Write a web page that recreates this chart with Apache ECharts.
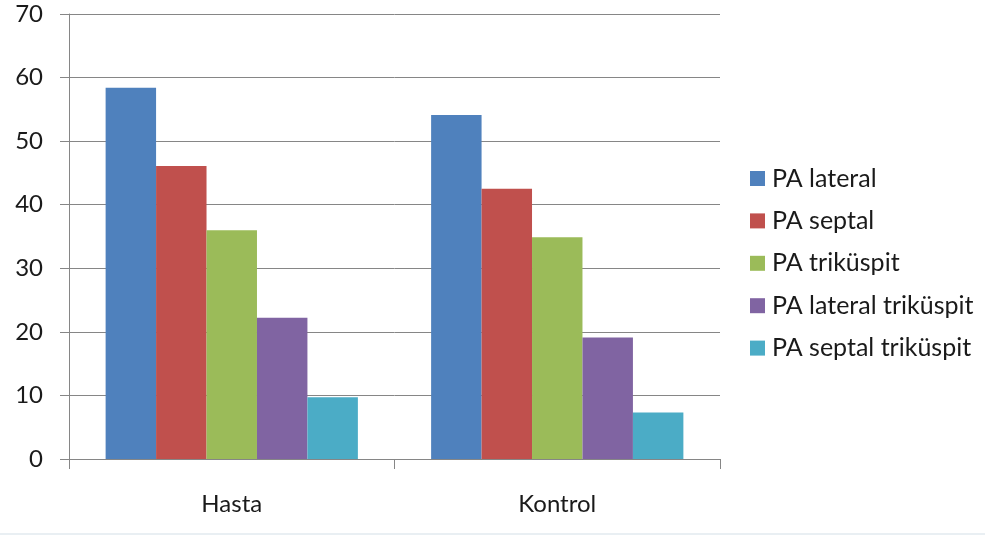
<!DOCTYPE html>
<html>
<head>
<meta charset="utf-8">
<script src="https://cdn.jsdelivr.net/npm/echarts@6/dist/echarts.min.js"></script>
<style>
  html, body { margin: 0; padding: 0; background: #fff; }
  #chart { width: 985px; height: 535px; }
</style>
</head>
<body>
<div id="chart"></div>
<script>
// Groups on the category axis
const categories = ['Hasta', 'Kontrol'];

// One value per group for each measurement
const paLateral = [58.4, 54.1];
const paSeptal = [46.1, 42.5];
const paTrikuspit = [36.0, 34.9];
const paLateralTrikuspit = [22.2, 19.1];
const paSeptalTrikuspit = [9.7, 7.3];

const seriesNames = ['PA lateral', 'PA septal', 'PA triküspit', 'PA lateral triküspit', 'PA septal triküspit'];
const seriesValues = [paLateral, paSeptal, paTrikuspit, paLateralTrikuspit, paSeptalTrikuspit];
const palette = ['#4F81BD', '#C0504D', '#9BBB59', '#8064A2', '#4BACC6'];

const yTicks = { min: 0, max: 70, interval: 10 };

const font = 'Lato, "Open Sans", sans-serif';
const chart = echarts.init(document.getElementById('chart'), null, { renderer: 'canvas' });

chart.setOption({
  animation: false,
  backgroundColor: '#ffffff',
  color: palette,
  grid: { left: 69, right: 265, top: 14, bottom: 76, containLabel: false },
  // faint frame edge along the bottom of the chart area
  graphic: [{
    type: 'rect',
    left: 0,
    bottom: 0,
    shape: { width: 985, height: 2 },
    style: { fill: '#e9eff3' },
    silent: true
  }],
  legend: {
    orient: 'vertical',
    left: 745,
    top: 161,
    itemWidth: 15,
    itemHeight: 15,
    itemGap: 17.4,
    icon: 'rect',
    textStyle: { fontFamily: font, fontSize: 25, color: '#1a1a1a', lineHeight: 25, padding: [0, 0, 0, 2] },
    data: seriesNames
  },
  xAxis: {
    type: 'category',
    data: categories,
    axisLine: { lineStyle: { color: '#868686', width: 1 } },
    axisTick: { show: true, length: 10, lineStyle: { color: '#868686' } },
    axisLabel: { fontFamily: font, fontSize: 24, color: '#1a1a1a', margin: 33 }
  },
  yAxis: {
    type: 'value',
    min: yTicks.min,
    max: yTicks.max,
    interval: yTicks.interval,
    axisLine: { show: true, lineStyle: { color: '#868686', width: 1 } },
    axisTick: { show: true, inside: false, length: 9, lineStyle: { color: '#868686' } },
    axisLabel: { fontFamily: font, fontSize: 24, color: '#1a1a1a', margin: 26 },
    splitLine: { lineStyle: { color: '#868686', width: 1 } }
  },
  series: seriesNames.map((name, i) => ({
    name: name,
    type: 'bar',
    data: seriesValues[i],
    barGap: '0%',
    barCategoryGap: '22.5%',
    itemStyle: { color: palette[i] }
  }))
});
</script>
</body>
</html>
